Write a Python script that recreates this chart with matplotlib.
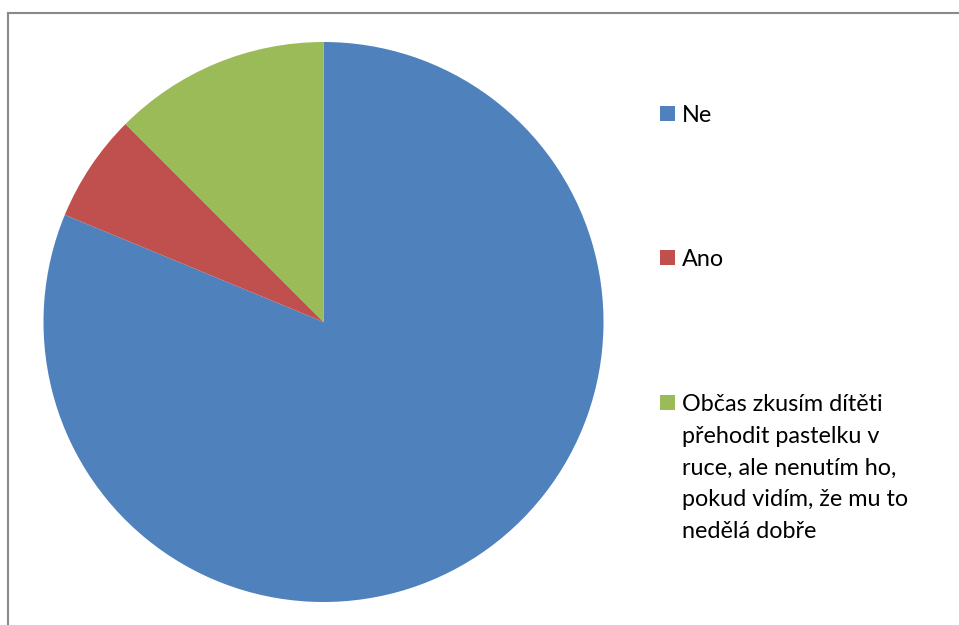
import matplotlib
matplotlib.use("Agg")
import matplotlib.pyplot as plt
from matplotlib.lines import Line2D
from matplotlib.patches import Rectangle

# survey answers (counts)
labels = ["Ne", "Ano",
          "Občas zkusím dítěti\npřehodit pastelku v\nruce, ale nenutím ho,\npokud vidím, že mu to\nnedělá dobře"]
counts = [13, 1, 2]
colors = ["#4F81BD", "#C0504D", "#9BBB59"]

W, H = 959, 625
fig = plt.figure(figsize=(W / 100, H / 100), dpi=100)
plt.rcParams["font.family"] = ["Lato", "DejaVu Sans"]

# pie area: centre (323.5, 322) px, radius 280 px
cx, cy, r = 323.5, 322, 280
ax = fig.add_axes([(cx - r) / W, (H - cy - r) / H, 2 * r / W, 2 * r / H])
ax.pie(counts, colors=colors, startangle=90, counterclock=False,
       wedgeprops=dict(linewidth=0))
ax.set_xlim(-1, 1)
ax.set_ylim(-1, 1)
ax.set_aspect("equal")
ax.axis("off")

# chart frame (only top and left edge visible)
fx, fy = 7.5, 12.5
fig.add_artist(Line2D([fx / W, fx / W], [0, 1 - fy / H], transform=fig.transFigure,
                      color="#8a8a8a", lw=1.5))
fig.add_artist(Line2D([fx / W, 1], [1 - fy / H, 1 - fy / H], transform=fig.transFigure,
                      color="#8a8a8a", lw=1.5))

# legend, drawn by hand
entry_y = [113.5, 257.5, 402.5]
line_gap = 31.7
sq = 15
for lab, col, ey in zip(labels, colors, entry_y):
    fig.add_artist(Rectangle((660 / W, 1 - (ey + sq / 2) / H), sq / W, sq / H,
                             transform=fig.transFigure, color=col, lw=0))
    for i, line in enumerate(lab.split("\n")):
        fig.text(682 / W, 1 - (ey + i * line_gap) / H, line, fontsize=16.8,
                 va="center_baseline", ha="left", color="black")

fig.savefig("out.png", dpi=100)
